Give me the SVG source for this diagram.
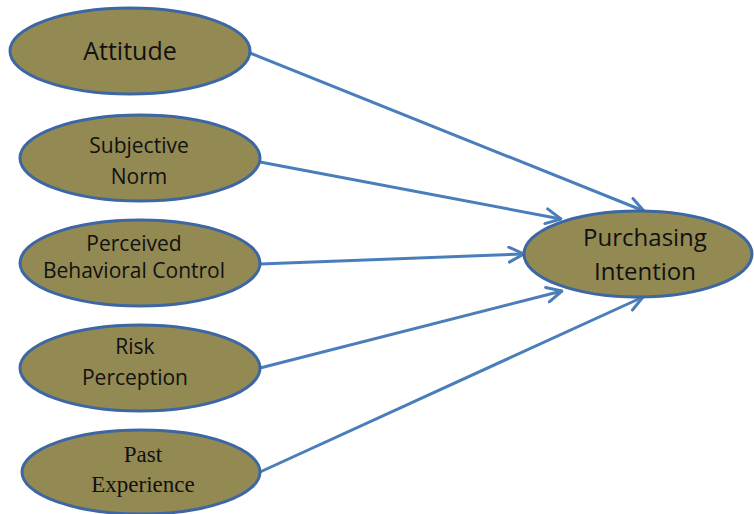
<svg xmlns="http://www.w3.org/2000/svg" width="754" height="514" viewBox="0 0 754 514">
  <style>
    .node ellipse { fill: #938953; stroke: #3d67a3; stroke-width: 3; }
    .lbl { fill: #111; text-anchor: middle; }
    .sans { font-family: "Open Sans", "Noto Sans", "Liberation Sans", sans-serif; }
    .serif { font-family: "Liberation Serif", "DejaVu Serif", serif; }
    .edge { stroke: #4a7ebb; stroke-width: 3; fill: none; marker-end: url(#chev); }
  </style>
  <defs>
    <marker id="chev" viewBox="0 0 12 12" refX="11" refY="6" markerWidth="6" markerHeight="6" orient="auto" markerUnits="strokeWidth">
      <path d="M1,1 L11,6 L1,11" fill="none" stroke="#4a7ebb" stroke-width="2" stroke-linecap="round" stroke-linejoin="round"/>
    </marker>
  </defs>
  <rect width="754" height="514" fill="#ffffff"/>

  <g id="connectors">
    <line class="edge" x1="250" y1="53" x2="644" y2="211"/>
    <line class="edge" x1="260" y1="162" x2="561" y2="219"/>
    <line class="edge" x1="260" y1="264" x2="524" y2="254"/>
    <line class="edge" x1="260" y1="368" x2="562" y2="291"/>
    <line class="edge" x1="260" y1="472" x2="643" y2="297"/>
  </g>

  <g id="attitude" class="node">
    <ellipse cx="130" cy="51" rx="120" ry="43"/>
    <text class="lbl sans" x="130" y="60" font-size="25">Attitude</text>
  </g>
  <g id="subjective-norm" class="node">
    <ellipse cx="140" cy="158" rx="120" ry="43"/>
    <text class="lbl sans" x="139" y="153" font-size="21">Subjective</text>
    <text class="lbl sans" x="139" y="184" font-size="21">Norm</text>
  </g>
  <g id="perceived-behavioral-control" class="node">
    <ellipse cx="140" cy="263" rx="120" ry="43"/>
    <text class="lbl sans" x="134" y="251" font-size="21">Perceived</text>
    <text class="lbl sans" x="134" y="278" font-size="21">Behavioral  Control</text>
  </g>
  <g id="risk-perception" class="node">
    <ellipse cx="140" cy="368" rx="120" ry="43"/>
    <text class="lbl sans" x="135" y="354" font-size="21">Risk</text>
    <text class="lbl sans" x="135" y="385" font-size="21">Perception</text>
  </g>
  <g id="past-experience" class="node">
    <ellipse cx="141" cy="472" rx="119" ry="42"/>
    <text class="lbl serif" x="143" y="462" font-size="23">Past</text>
    <text class="lbl serif" x="143" y="492" font-size="23">Experience</text>
  </g>
  <g id="purchasing-intention" class="node">
    <ellipse cx="638" cy="254" rx="114" ry="43"/>
    <text class="lbl sans" x="645" y="246" font-size="24">Purchasing</text>
    <text class="lbl sans" x="645" y="280" font-size="24">Intention</text>
  </g>
</svg>
